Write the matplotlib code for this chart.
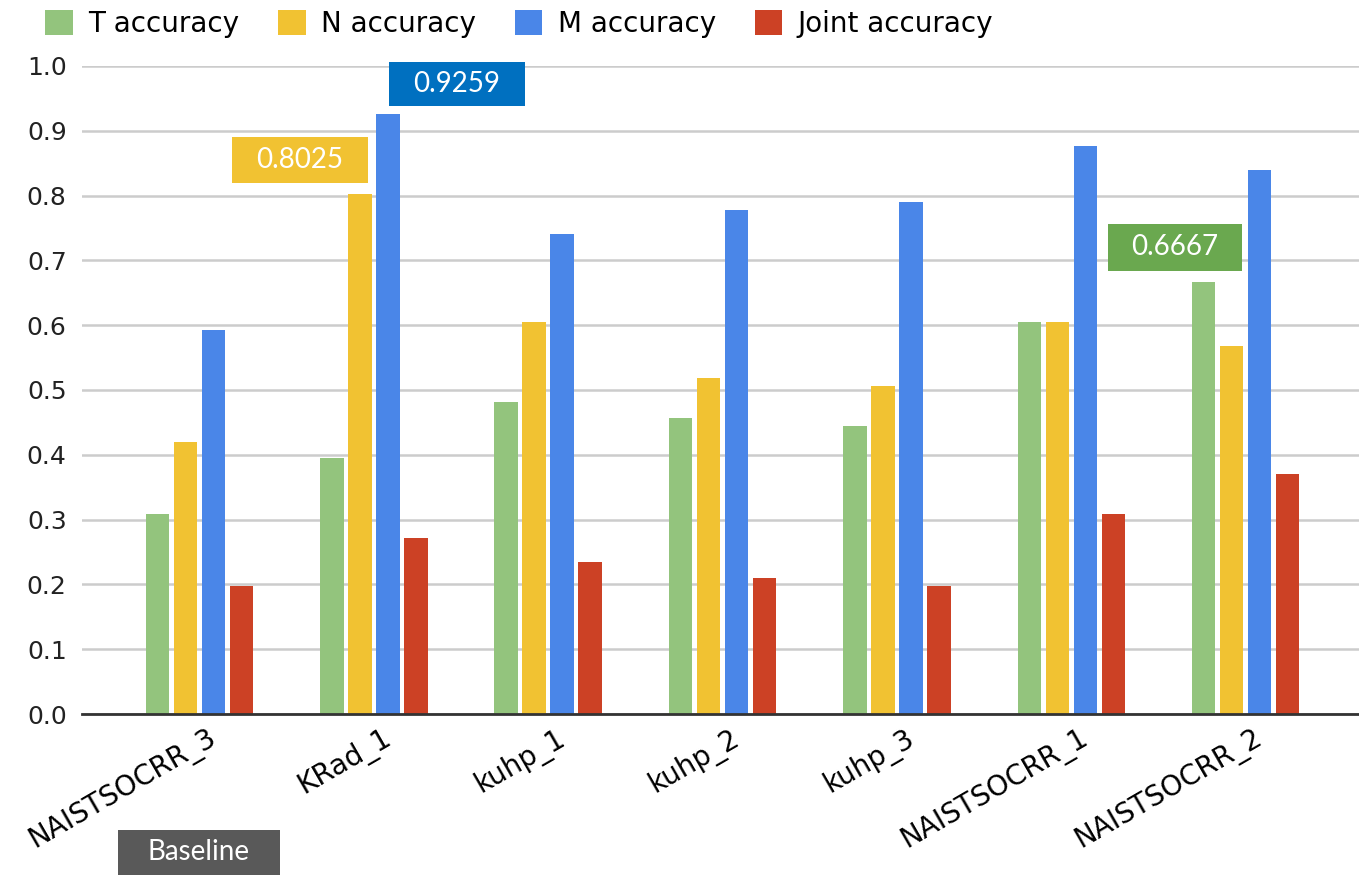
import matplotlib
matplotlib.use("Agg")
import matplotlib.pyplot as plt
import matplotlib.transforms as mtransforms
from matplotlib.patches import Rectangle, Patch
import numpy as np

runs = ["NAISTSOCRR_3", "KRad_1", "kuhp_1", "kuhp_2", "kuhp_3",
        "NAISTSOCRR_1", "NAISTSOCRR_2"]
t_acc = [0.3086, 0.3951, 0.4815, 0.4568, 0.4444, 0.6049, 0.6667]
n_acc = [0.4198, 0.8025, 0.6049, 0.5185, 0.5062, 0.6049, 0.5679]
m_acc = [0.5926, 0.9259, 0.7407, 0.7778, 0.7901, 0.8765, 0.8395]
joint_acc = [0.1975, 0.2716, 0.2346, 0.2099, 0.1975, 0.3086, 0.3704]
series_names = ["T accuracy", "N accuracy", "M accuracy", "Joint accuracy"]
yticks = [0.0, 0.1, 0.2, 0.3, 0.4, 0.5, 0.6, 0.7, 0.8, 0.9, 1.0]

colors = ["#93c47d", "#f1c232", "#4a86e8", "#cc4125"]

fig = plt.figure(figsize=(13.59, 8.75), dpi=100)
ax = fig.add_axes([0.0603, 0.184, 0.9397, 0.7406])

x = np.arange(len(runs))
pitch = 0.1605
width = 0.135
series = [t_acc, n_acc, m_acc, joint_acc]
for k, (vals, c) in enumerate(zip(series, colors)):
    ax.bar(x + (k - 1.5) * pitch, vals, width, color=c, zorder=3)

ax.set_xlim(-0.674, 6.65)
ax.set_ylim(0, 1.0)
ax.set_yticks(yticks)
ax.set_yticklabels([f"{v:.1f}" for v in yticks], fontsize=18,
                   family="DejaVu Sans", color="#222222")
ax.yaxis.grid(True, color="#cccccc", linewidth=1.8, zorder=0)
ax.tick_params(axis="y", length=0, pad=11)
ax.tick_params(axis="x", length=0, pad=7)
for s in ["top", "right", "left"]:
    ax.spines[s].set_visible(False)
ax.spines["bottom"].set_color("#333333")
ax.spines["bottom"].set_linewidth(2)
ax.spines["bottom"].set_zorder(4)

ax.set_xticks(x)
ax.set_xticklabels(runs, rotation=30, ha="right", va="top",
                   rotation_mode="anchor", fontsize=20, family="DejaVu Sans")
shift = mtransforms.ScaledTranslation(8 / 100, 0, fig.dpi_scale_trans)
for lbl in ax.get_xticklabels():
    lbl.set_transform(lbl.get_transform() + shift)

# highlight boxes for notable scores
def callout(x0, x1, y0, y1, text, fc):
    ax.add_patch(Rectangle((x0, y0), x1 - x0, y1 - y0, facecolor=fc,
                           edgecolor="none", clip_on=False, zorder=5))
    ax.text((x0 + x1) / 2, (y0 + y1) / 2, text, ha="center", va="center",
            color="white", fontsize=20, family="Lato", zorder=6)

callout(1.087, 1.866, 0.938, 1.006, f"{m_acc[1]:.4f}", "#0070c0")
callout(0.186, 0.966, 0.819, 0.890, f"{n_acc[1]:.4f}", "#f1c232")
callout(5.209, 5.977, 0.684, 0.756, f"{t_acc[6]:.4f}", "#6aa84f")
callout(-0.467, 0.462, -0.248, -0.179, "Baseline", "#595959")

handles = [Patch(facecolor=c, edgecolor="none") for c in colors]
fig.legend(handles, series_names, loc="center left", ncol=4,
           bbox_to_anchor=(0.033, 0.973), frameon=False,
           prop={"family": "DejaVu Sans", "size": 20},
           handlelength=1.0, handleheight=1.0, handletextpad=0.55,
           columnspacing=1.4, borderaxespad=0, borderpad=0)

fig.savefig("out.png", dpi=100)
